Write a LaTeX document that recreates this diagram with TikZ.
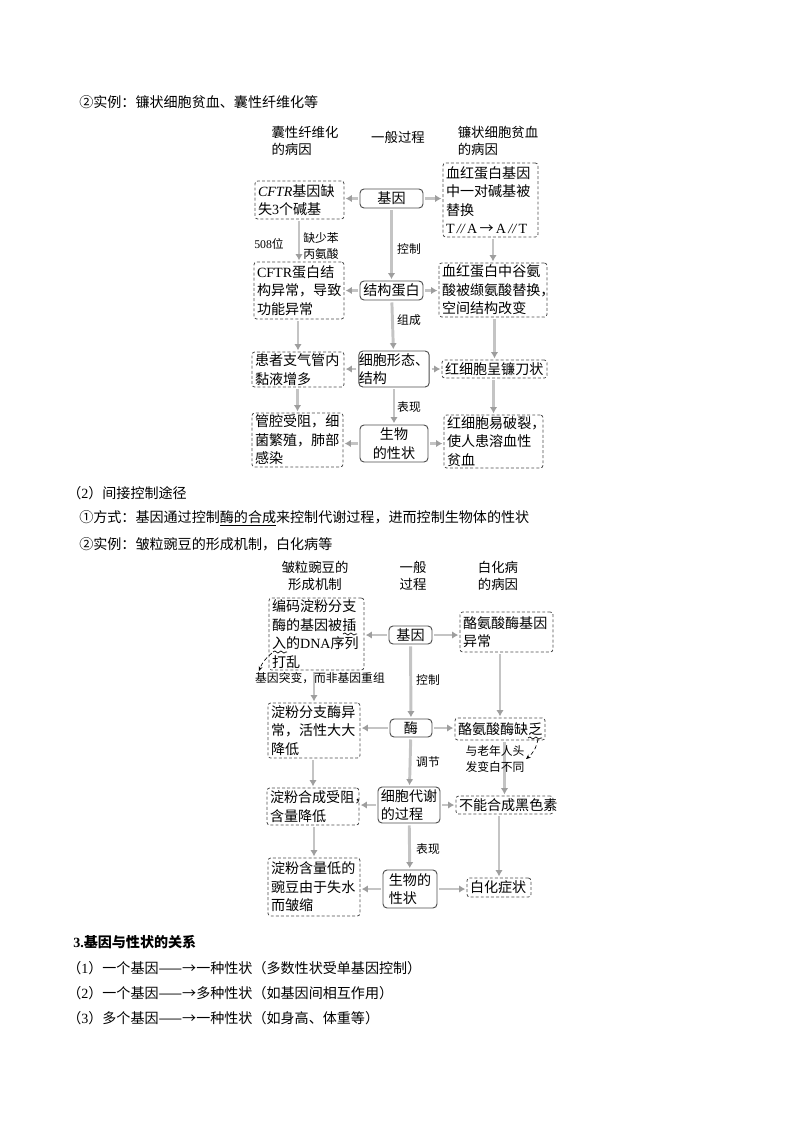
\documentclass[tikz,border=0pt]{standalone}
\usepackage{fontspec}
\setmainfont{Noto Sans CJK SC}
\newfontfamily\lat{Liberation Serif}
\usepackage{tikz}
\usetikzlibrary{arrows.meta}
\usetikzlibrary{decorations.pathmorphing}
\newlength\PX
\setlength\PX{0.02625cm}
\definecolor{boxgray}{gray}{0.3}
\definecolor{arrgray}{gray}{0.77}
\definecolor{tipgray}{gray}{0.62}

\begin{document}
\begin{tikzpicture}[x=0.02625cm, y=-0.02625cm, >={Latex[length=4.5pt,width=5.5pt,color=tipgray]},
    font=\fontsize{10.5pt}{13.8pt}\selectfont]
      \tikzstyle{line} = [draw=arrgray, line width=2.2pt, ->, shorten >=1pt, shorten <=1.5pt]
      \tikzstyle{cause} = [draw=boxgray, dash pattern=on 2.2pt off 1.6pt, line width=0.6pt, rounded corners=2pt,
         align=left, inner xsep=3\PX, inner ysep=0pt]
      \tikzstyle{main} = [draw=boxgray, line width=0.7pt, rounded corners=3pt, align=center, inner sep=0pt]
      \tikzstyle{colhead} = [font=\fontsize{10pt}{12.8pt}\selectfont, inner sep=0pt]
      \tikzstyle{tag} = [font=\fontsize{8.8pt}{12pt}\selectfont, align=left, inner sep=0pt]
      \tikzstyle{note} = [draw=black, densely dashed, line width=0.5pt, -{Stealth[length=3.5pt,width=3pt]}]
      \tikzstyle{wave} = [draw=black, line width=0.5pt, decorate, decoration={snake, amplitude=0.8pt, segment length=4.5pt}]
      \tikzstyle{body} = [anchor=west, inner sep=0pt]
      \useasboundingbox (0,0) rectangle (800,1132);

      %text
      \node[body] (ex1) at (79,102) {②实例：镰状细胞贫血、囊性纤维化等};
      \node[body] (way2) at (67,493) {（{\lat 2}）间接控制途径};
      \node[body] (how) at (79,518) {①方式：基因通过控制\underline{酶的合成}来控制代谢过程，进而控制生物体的性状};
      \node[body] (ex2) at (79,544) {②实例：皱粒豌豆的形成机制，白化病等};
      \node[body] (rel) at (73,942) {\bfseries{\lat 3.}基因与性状的关系};
      \node[body] (rel1) at (67,968) {（{\lat 1}）一个基因——→一种性状（多数性状受单基因控制）};
      \node[body] (rel2) at (67,993) {（{\lat 2}）一个基因——→多种性状（如基因间相互作用）};
      \node[body] (rel3) at (67,1018) {（{\lat 3}）多个基因——→一种性状（如身高、体重等）};

      %headers (direct)
      \node[colhead, align=left] (hcf) at (305,141) {囊性纤维化\\的病因};
      \node[colhead] (hgen) at (398,137) {一般过程};
      \node[colhead, align=left] (hsc) at (498,141) {镰状细胞贫血\\的病因};

      %nodes (direct)
      \node[main, minimum width=63\PX, minimum height=19\PX] (gene) at (391.5,198.5) {基因};
      \node[main, minimum width=63\PX, minimum height=19\PX] (prot) at (391.5,290.5) {结构蛋白};
      \node[main, align=left, minimum width=68\PX, minimum height=36\PX] (cell) at (394,369) {细胞形态、\\结构};
      \node[main, minimum width=68\PX, minimum height=37\PX] (trait) at (394,443.5) {生物\\的性状};

      \node[cause, text width=83\PX, minimum height=38\PX] (cf1) at (299.5,200) {{\lat\itshape CFTR}基因缺\\失{\lat 3}个碱基};
      \node[cause, text width=84\PX, minimum height=57\PX] (cf2) at (299,290.5) {{\lat CFTR}蛋白结\\构异常，导致\\功能异常};
      \node[cause, text width=86\PX, minimum height=35\PX] (cf3) at (298,369.5) {患者支气管内\\黏液增多};
      \node[cause, text width=85\PX, minimum height=54\PX] (cf4) at (297.5,440) {管腔受阻，细\\菌繁殖，肺部\\感染};

      \node[cause, text width=89\PX, minimum height=74\PX] (sc1) at (490.5,200) {血红蛋白基因\\中一对碱基被\\替换\\{\lat T\,{\itshape//}\,A\,}→{\lat\,A\,{\itshape//}\,T}};
      \node[cause, text width=102\PX, minimum height=54\PX] (sc2) at (493,290) {血红蛋白中谷氨\\酸被缬氨酸替换，\\空间结构改变};
      \node[cause, text width=99\PX, minimum height=18\PX] (sc3) at (494.5,369) {红细胞呈镰刀状};
      \node[cause, text width=93\PX, minimum height=53\PX] (sc4) at (493.5,441.5) {红细胞易破裂，\\使人患溶血性\\贫血};

      \node[tag] (pos) at (269,244) {{\lat 508}位};
      \node[tag] (phe) at (321,246) {缺少苯\\丙氨酸};
      \node[tag] (ctl1) at (409,249) {控制};
      \node[tag] (mak1) at (409,320) {组成};
      \node[tag] (shw1) at (409,407) {表现};

      %lines (direct)
      \draw [line] (gene) -- (prot);
      \draw [line] (prot) -- (cell);
      \draw [line] (cell) -- (trait);
      \foreach \c/\l/\r in {gene/cf1/sc1, prot/cf2/sc2, cell/cf3/sc3, trait/cf4/sc4}{
        \draw [line] (\c.west) -- (\c.west -| \l.east);
        \draw [line] (\c.east) -- (\c.east -| \r.west);
      }
      \foreach \a/\b in {cf1/cf2, cf2/cf3, cf3/cf4, sc1/sc2, sc2/sc3, sc3/sc4}
        \draw [line] (\a.south -| \b.north) -- (\b.north);

      %headers (indirect)
      \node[colhead, align=center] (hpea) at (315,576) {皱粒豌豆的\\形成机制};
      \node[colhead, align=center] (hgen2) at (413,576) {一般\\过程};
      \node[colhead, align=center] (halb) at (498,576) {白化病\\的病因};

      %nodes (indirect)
      \node[main, minimum width=43\PX, minimum height=18\PX] (gene2) at (410.5,635) {基因};
      \node[main, minimum width=42\PX, minimum height=18\PX] (enz) at (411,728) {酶};
      \node[main, align=left, minimum width=62\PX, minimum height=36\PX] (meta) at (409,805) {细胞代谢\\的过程};
      \node[main, align=left, minimum width=54\PX, minimum height=38\PX] (trait2) at (410,889) {生物的\\性状};

      \node[cause, text width=89\PX, minimum height=72\PX] (pea1) at (316.5,634) {编码淀粉分支\\酶的基因被插\\入的{\lat DNA}序列\\打乱};
      \node[cause, text width=86\PX, minimum height=55\PX] (pea2) at (314,730.5) {淀粉分支酶异\\常，活性大大\\降低};
      \node[cause, text width=86\PX, minimum height=37\PX] (pea3) at (313,806.5) {淀粉合成受阻，\\含量降低};
      \node[cause, text width=86\PX, minimum height=58\PX] (pea4) at (314,887) {淀粉含量低的\\豌豆由于失水\\而皱缩};

      \node[cause, text width=87\PX, minimum height=40\PX] (alb1) at (506.5,632) {酪氨酸酶基因\\异常};
      \node[cause, text width=84\PX, minimum height=22\PX] (alb2) at (500,729) {酪氨酸酶缺乏};
      \node[cause, text width=91\PX, minimum height=18\PX] (alb3) at (504.5,805) {不能合成黑色素};
      \node[cause, text width=58\PX, minimum height=19\PX] (alb4) at (499,887.5) {白化症状};

      \node[tag] (ctl2) at (428,680) {控制};
      \node[tag] (adj) at (428,762) {调节};
      \node[tag] (shw2) at (428,849) {表现};

      %lines (indirect)
      \draw [line] (gene2) -- (enz);
      \draw [line] (enz) -- (meta);
      \draw [line] (meta) -- (trait2);
      \foreach \c/\l/\r in {gene2/pea1/alb1, enz/pea2/alb2, meta/pea3/alb3, trait2/pea4/alb4}{
        \draw [line] (\c.west) -- (\c.west -| \l.east);
        \draw [line] (\c.east) -- (\c.east -| \r.west);
      }
      \foreach \a/\b in {pea1/pea2, pea2/pea3, pea3/pea4, alb1/alb2, alb2/alb3, alb3/alb4}
        \draw [line] (\a.south -| \b.north) -- (\b.north);

      %hand notes
      \node[tag] (mutnote) at (320,678) {基因突变，而非基因重组};
      \node[tag] (agenote) at (495,759) {与老年人头\\发变白不同};
      \draw [wave] (343,634) -- (357,634);
      \draw [wave] (273,652) -- (287,652);
      \draw [wave] (528,738) -- (542,738);
      \coordinate (mut) at (272,653);
      \coordinate (mutend) at (259,671);
      \draw [note] (mut) to[bend right=15] (mutend);
      \coordinate (lack) at (538,739);
      \coordinate (lackend) at (526,759);
      \draw [note] (lack) to[bend left=20] (lackend);
\end{tikzpicture}
\end{document}
